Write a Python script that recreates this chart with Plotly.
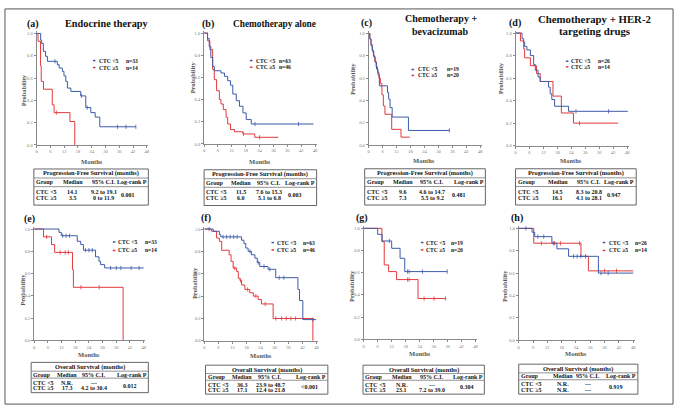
import plotly.graph_objects as go
import numpy as np

W, H = 685, 418
BLUE = "#3d5ba9"
RED = "#e4393c"
FONT = "Liberation Serif"
AX = "#8a8a8a"

# ---------------- data (months, survival probability) ----------------
a_blue_t = [0, 1.75, 2.2, 2.9, 3.9, 4.7, 9.0, 9.8, 11.2, 11.9, 12.7, 13.4, 14.9, 19.2, 21.4, 23.6, 25.5, 27.5, 43.2]
a_blue_s = [1, 0.94, 0.91, 0.84, 0.795, 0.75, 0.72, 0.69, 0.66, 0.62, 0.57, 0.51, 0.48, 0.44, 0.335, 0.29, 0.25, 0.163, 0.163]
a_red_t = [0, 0.6, 1.7, 2.0, 3.0, 6.8, 7.6, 14.5, 16.6]
a_red_s = [1, 0.93, 0.71, 0.57, 0.50, 0.36, 0.29, 0.21, 0.0]

b_blue_t = [0, 1.5, 2.2, 2.9, 3.7, 4.4, 7.3, 8.8, 10.2, 11.4, 12.4, 13.9, 15.3, 16.8, 18.2, 20.4, 47.3]
b_blue_s = [1, 0.95, 0.88, 0.78, 0.70, 0.66, 0.64, 0.61, 0.57, 0.53, 0.45, 0.39, 0.34, 0.28, 0.22, 0.18, 0.18]
b_red_t = [0, 1.5, 2.5, 3.7, 4.4, 5.4, 6.6, 7.3, 8.3, 9.5, 10.2, 11.4, 13.1, 16.8, 21.9, 32.1]
b_red_s = [1, 0.93, 0.85, 0.67, 0.58, 0.48, 0.40, 0.36, 0.31, 0.24, 0.18, 0.13, 0.11, 0.09, 0.06, 0.06]

c_blue_t = [0, 0.5, 1.0, 1.6, 2.2, 2.8, 3.4, 4.0, 4.6, 8.1, 8.6, 9.2, 10.1, 17.1, 34.7]
c_blue_s = [1, 0.95, 0.89, 0.84, 0.79, 0.74, 0.68, 0.63, 0.53, 0.47, 0.41, 0.335, 0.25, 0.13, 0.13]
c_red_t = [0, 0.5, 1.0, 1.5, 2.0, 2.6, 3.2, 3.8, 4.4, 5.0, 5.7, 6.3, 7.0, 9.9, 13.9, 17.7]
c_red_s = [1, 0.95, 0.90, 0.85, 0.80, 0.75, 0.70, 0.65, 0.60, 0.55, 0.45, 0.35, 0.275, 0.14, 0.07, 0.07]

d_blue_t = [0, 2.8, 3.5, 3.9, 4.9, 6.4, 7.8, 8.5, 9.7, 10.6, 14.2, 14.9, 15.6, 16.8, 22.8, 48.3]
d_blue_s = [1, 0.95, 0.92, 0.88, 0.85, 0.80, 0.72, 0.67, 0.61, 0.57, 0.52, 0.46, 0.41, 0.35, 0.305, 0.305]
d_red_t = [0, 2.1, 3.5, 3.9, 6.4, 9.0, 10.6, 16.1, 19.7, 24.9, 44.2]
d_red_s = [1, 0.93, 0.86, 0.78, 0.71, 0.64, 0.57, 0.44, 0.29, 0.20, 0.20]

e_blue_t = [0, 10.9, 11.9, 18.9, 20.4, 21.6, 26.9, 28.4, 29.1, 30.9, 48.0]
e_blue_s = [1, 0.97, 0.94, 0.89, 0.86, 0.81, 0.75, 0.71, 0.68, 0.65, 0.65]
e_red_t = [0, 4.1, 7.6, 9.0, 16.8, 17.2, 39.0]
e_red_s = [1, 0.93, 0.86, 0.79, 0.635, 0.476, 0.0]

f_blue_t = [0, 3.8, 6.4, 7.0, 15.9, 16.9, 17.7, 18.7, 20.1, 21.6, 22.6, 23.7, 27.2, 30.5, 40.0, 40.7, 42.1, 47.8]
f_blue_s = [1, 0.98, 0.95, 0.93, 0.90, 0.87, 0.83, 0.80, 0.77, 0.74, 0.70, 0.665, 0.64, 0.565, 0.46, 0.36, 0.19, 0.19]
f_red_t = [0, 3.0, 5.2, 6.4, 7.4, 10.6, 11.4, 12.3, 13.8, 14.5, 15.2, 15.9, 17.3, 19.4, 20.9, 23.0, 24.4, 29.4, 46.4]
f_red_s = [1, 0.98, 0.92, 0.89, 0.81, 0.77, 0.71, 0.65, 0.62, 0.56, 0.54, 0.50, 0.46, 0.43, 0.40, 0.37, 0.33, 0.20, 0.0]

g_blue_t = [0, 6.0, 7.9, 12.0, 15.6, 17.6, 35.8]
g_blue_s = [1, 0.946, 0.886, 0.82, 0.73, 0.61, 0.61]
g_red_t = [0, 7.8, 8.8, 10.7, 14.1, 23.3, 35.1]
g_red_s = [1, 0.88, 0.67, 0.61, 0.538, 0.367, 0.367]

h_blue_t = [0, 5.6, 6.7, 13.9, 16.0, 20.9, 33.4, 48.0]
h_blue_s = [1, 0.965, 0.926, 0.867, 0.817, 0.75, 0.60, 0.60]
h_red_t = [0, 6.3, 26.1, 29.2, 48.0]
h_red_s = [1, 0.867, 0.75, 0.62, 0.62]

# censoring times
a_blue_c = [8.0, 19.5, 22.0, 35.2, 38.9, 43.2]
a_red_c = [8.6]
b_blue_c = [22.0, 40.8]
b_red_c = [17.0, 24.0]
c_blue_c = [34.7]
c_red_c = []
d_blue_c = [26.0, 40.0]
d_red_c = [27.5]
e_blue_c = [12.5, 14.0, 15.5, 22.5, 24.0, 25.5, 33.5, 36.0, 38.0, 42.5, 46.0]
e_red_c = [5.5, 11.4, 13.6, 15.0, 20.5, 28.5]
f_blue_c = [2.0, 8.0, 9.5, 11.0, 12.5, 14.0, 19.5, 23.0, 25.5, 28.0, 32.0, 34.0, 46.5]
f_red_c = [13.0, 15.5, 18.5, 22.0, 26.0, 30.5, 33.0, 35.0, 37.0, 39.0]
g_blue_c = [11.0, 18.8, 19.5, 25.2, 35.8]
g_red_c = [18.8, 19.5, 25.9, 30.2, 35.1]
h_blue_c = [3.0, 8.0, 10.5, 14.5, 23.0, 24.5, 26.0, 28.0, 34.5, 37.5]
h_red_c = [9.5, 15.0, 17.5, 25.5, 36.0, 41.0]

group_n = {"a": (33, 14), "b": (63, 46), "c": (19, 20), "d": (26, 14),
           "e": (33, 14), "f": (63, 46), "g": (19, 20), "h": (26, 14)}

# tables: (median <5, CI <5, median >=5, CI >=5, log-rank P)
tables = {
    "a": ("14.1", "9.2 to 19.1", "3.5", "0 to 11.9", "0.001"),
    "b": ("11.5", "7.6 to 15.3", "6.0", "5.1 to 6.8", "0.003"),
    "c": ("9.6", "4.6 to 14.7", "7.3", "5.5 to 9.2", "0.481"),
    "d": ("14.5", "8.3 to 20.8", "16.1", "4.1 to 28.1", "0.947"),
    "e": ("N.R.", "---", "17.3", "4.2 to 30.4", "0.012"),
    "f": ("36.3", "23.9 to 48.7", "17.1", "12.4 to 21.8", "&lt;0.001"),
    "g": ("N.R.", "---", "23.1", "7.2 to 39.0", "0.304"),
    "h": ("N.R.", "---", "N.R.", "---", "0.919"),
}
x_ticks = [0, 6, 12, 18, 24, 30, 36, 42, 48]
y_ticks = [0.0, 0.2, 0.4, 0.6, 0.8, 1.0]

curves = {
    "a": (a_blue_t, a_blue_s, a_red_t, a_red_s, a_blue_c, a_red_c),
    "b": (b_blue_t, b_blue_s, b_red_t, b_red_s, b_blue_c, b_red_c),
    "c": (c_blue_t, c_blue_s, c_red_t, c_red_s, c_blue_c, c_red_c),
    "d": (d_blue_t, d_blue_s, d_red_t, d_red_s, d_blue_c, d_red_c),
    "e": (e_blue_t, e_blue_s, e_red_t, e_red_s, e_blue_c, e_red_c),
    "f": (f_blue_t, f_blue_s, f_red_t, f_red_s, f_blue_c, f_red_c),
    "g": (g_blue_t, g_blue_s, g_red_t, g_red_s, g_blue_c, g_red_c),
    "h": (h_blue_t, h_blue_s, h_red_t, h_red_s, h_blue_c, h_red_c),
}

# ---------------- layout geometry (pixels) ----------------
geom = {
    "a": (35.8, 146.5, 146.0, 33.7),
    "b": (204.0, 315.5, 145.0, 33.3),
    "c": (369.3, 481.4, 146.0, 33.7),
    "d": (516.8, 628.9, 146.7, 33.3),
    "e": (33.3, 143.3, 342.7, 230.7),
    "f": (204.3, 317.0, 343.3, 230.7),
    "g": (364.3, 476.7, 341.7, 230.0),
    "h": (520.0, 635.0, 342.7, 230.0),
}
legpos = {
    "a": (92.3, 97.7, 125.0, 61.0, 68.0),
    "b": (250.0, 255.0, 278.3, 61.0, 67.7),
    "c": (412.3, 418.3, 447.3, 70.0, 76.0),
    "d": (567.3, 571.7, 598.3, 61.7, 67.3),
    "e": (112.3, 116.7, 143.3, 243.7, 252.3),
    "f": (271.7, 276.0, 302.7, 244.3, 251.7),
    "g": (421.7, 426.0, 451.0, 244.3, 251.7),
    "h": (604.3, 609.3, 636.0, 244.3, 252.3),
}
problab = {"a": (22, 91), "b": (192, 78), "c": (353, 79), "d": (502, 79),
           "e": (22, 292), "f": (195, 285), "g": (352.7, 288), "h": (505.7, 287.5)}
months_y = {"a": 163, "b": 163, "c": 161.8, "d": 161.8,
            "e": 356.7, "f": 357.7, "g": 355.7, "h": 355.7}
tbox = {
    "a": (33.0, 148.0, 170.2, 206.6, 0.34, 0.61, 0.82),
    "b": (204.0, 317.0, 171.0, 207.0, 0.33, 0.58, 0.81),
    "c": (365.3, 486.5, 170.0, 206.5, 0.32, 0.56, 0.78),
    "d": (516.8, 638.0, 170.0, 206.5, 0.35, 0.61, 0.82),
    "e": (30.3, 148.0, 365.0, 395.5, 0.31, 0.54, 0.84),
    "f": (205.4, 328.3, 367.8, 397.0, 0.30, 0.53, 0.85),
    "g": (363.6, 485.5, 367.8, 397.0, 0.32, 0.57, 0.86),
    "h": (520.0, 639.7, 366.8, 397.0, 0.37, 0.58, 0.82),
}
TF = 6.0


def px(x):
    return x / W


def py(y):
    return 1 - y / H


XR = (0, 48.6)
YR = (0, 1.02)

fig = go.Figure()
layout = dict()
shapes = []
ann = []


def add_text(x, y, text, size, xanchor="center", color="#111", bold=True, angle=0, yanchor="middle"):
    ann.append(dict(x=px(x), y=py(y), xref="paper", yref="paper", text=text, showarrow=False,
                    xanchor=xanchor, yanchor=yanchor, textangle=angle, borderpad=0,
                    font=dict(family=FONT, size=size, color=color, weight="bold" if bold else "normal")))


def step_at(t, s, x):
    i = int(np.searchsorted(np.array(t), x, side="right")) - 1
    return s[max(i, 0)]


for i, k in enumerate("abcdefgh"):
    X0, X48, Y0, Y1 = geom[k]
    sx = (X48 - X0) / 48.0
    sy = (Y0 - Y1) / 1.0
    xd = [px(X0 + XR[0] * sx), px(X0 + XR[1] * sx)]
    yd = [py(Y0 - YR[0] * sy), py(Y0 - YR[1] * sy)]
    sfx = "" if i == 0 else str(i + 1)
    layout["xaxis" + sfx] = dict(domain=xd, range=list(XR), anchor="y" + sfx, showgrid=False, zeroline=False,
                                 showline=True, linecolor=AX, linewidth=1, ticks="outside", ticklen=2,
                                 tickcolor=AX, tickvals=x_ticks, tickfont=dict(family=FONT, size=4.5, color="#777"))
    layout["yaxis" + sfx] = dict(domain=[yd[0], yd[1]], range=list(YR), anchor="x" + sfx, showgrid=False,
                                 zeroline=False, showline=True, linecolor=AX, linewidth=1, ticks="outside",
                                 ticklen=2, tickcolor=AX, tickvals=y_ticks, tickformat=".1f",
                                 tickfont=dict(family=FONT, size=4.5, color="#777"))
    bt, bs, rt, rs, bc, rc = curves[k]
    for (t, s, c, col) in ((rt, rs, rc, RED), (bt, bs, bc, BLUE)):
        fig.add_trace(go.Scatter(x=t, y=s, mode="lines", line=dict(color=col, width=1, shape="hv"),
                                 xaxis="x" + sfx, yaxis="y" + sfx, showlegend=False, hoverinfo="skip"))
        if c:
            fig.add_trace(go.Scatter(x=c, y=[step_at(t, s, v) for v in c], mode="markers",
                                     marker=dict(symbol="line-ns", size=3, color=col,
                                                 line=dict(color=col, width=0.8)),
                                     xaxis="x" + sfx, yaxis="y" + sfx, showlegend=False, hoverinfo="skip"))
    dx, lx, nx, r1, r2 = legpos[k]
    n1, n2 = group_n[k]
    for (yy, col, lab, n) in ((r1, BLUE, "CTC &lt;5", n1), (r2, RED, "CTC ≥5", n2)):
        shapes.append(dict(type="line", xref="paper", yref="paper", x0=px(dx), x1=px(dx + 2.6),
                           y0=py(yy), y1=py(yy), line=dict(color=col, width=1.5)))
        add_text(lx, yy, lab, 5.6, xanchor="left")
        add_text(nx, yy, "n=%d" % n, 5.6, xanchor="left")
    add_text(problab[k][0], problab[k][1], "Probability", 6.5, color="#555", angle=-90)
    add_text((X0 + X48) / 2, months_y[k], "Months", 6.5, color="#555")
    L, R, T, B, fm, fc, fp = tbox[k]
    Hh = B - T
    top = k in "abcd"
    fr = (0.12, 0.25, 0.37, 0.49, 0.63, 0.80) if top else (0.16, 0.29, 0.41, 0.52, 0.67, 0.86)
    shapes.append(dict(type="rect", xref="paper", yref="paper", x0=px(L), x1=px(R), y0=py(T), y1=py(B),
                       line=dict(color="#666", width=1)))
    for f in (fr[1], fr[3]):
        shapes.append(dict(type="line", xref="paper", yref="paper", x0=px(L), x1=px(R),
                           y0=py(T + f * Hh), y1=py(T + f * Hh), line=dict(color="#777", width=0.8)))
    Wt = R - L
    ttl = "Progression-Free Survival (months)" if top else "Overall Survival (months)"
    add_text((L + R) / 2, T + fr[0] * Hh, ttl, TF + 0.3)
    yh = T + fr[2] * Hh
    add_text(L + 1.2, yh, "Group", TF, xanchor="left")
    add_text(L + fm * Wt, yh, "Median", TF)
    add_text(L + fc * Wt, yh, "95% C.I.", TF)
    add_text(R - 0.8, yh, "Log-rank P", TF, xanchor="right")
    m1, c1, m2, c2, pv = tables[k]
    y1r, y2r = T + fr[4] * Hh, T + fr[5] * Hh
    add_text(L + 1.2, y1r, "CTC &lt;5", TF, xanchor="left")
    add_text(L + 1.2, y2r, "CTC ≥5", TF, xanchor="left")
    add_text(L + fm * Wt, y1r, m1, TF)
    add_text(L + fm * Wt, y2r, m2, TF)
    add_text(L + fc * Wt, y1r, c1, TF)
    add_text(L + fc * Wt, y2r, c2, TF)
    add_text(L + fp * Wt, (y1r + y2r) / 2, pv, TF)

# panel letters and titles
add_text(32, 24, "(a)", 10)
add_text(106.5, 24, "Endocrine therapy", 10.3)
add_text(207.5, 24, "(b)", 10)
add_text(275, 24, "Chemotherapy alone", 9.3)
add_text(366.7, 23, "(c)", 10)
add_text(441.7, 19, "Chemotherapy +", 10)
add_text(441.7, 31.7, "bevacizumab", 10)
add_text(516.7, 23, "(d)", 10)
add_text(595.8, 19, "Chemotherapy + HER-2", 10.8)
add_text(595.8, 31.7, "targeting drugs", 10.8)
add_text(29, 220.7, "(e)", 10)
add_text(205.5, 220, "(f)", 10)
add_text(362.5, 220, "(g)", 10)
add_text(518, 220, "(h)", 10)

shapes.append(dict(type="rect", xref="paper", yref="paper", x0=px(4), x1=px(675), y0=py(9), y1=py(407),
                   line=dict(color="#555", width=1)))

fig.update_layout(width=W, height=H, autosize=False, margin=dict(l=0, r=0, t=0, b=0),
                  paper_bgcolor="white", plot_bgcolor="white", shapes=shapes, annotations=ann,
                  showlegend=False, **layout)
fig.write_html("out.html", config={"displayModeBar": False},
               post_script="document.body.style.margin='0';document.body.style.overflow='hidden';")
